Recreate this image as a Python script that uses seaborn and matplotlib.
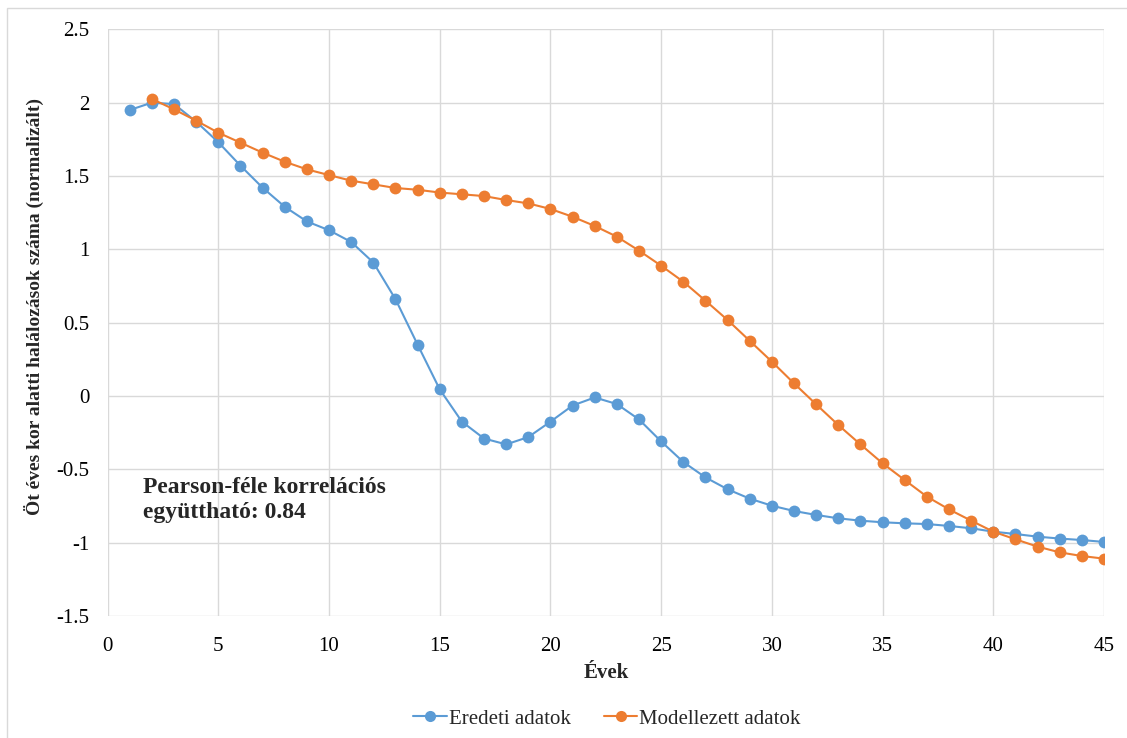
import pandas as pd
import seaborn as sns
import matplotlib.pyplot as plt
from matplotlib.lines import Line2D
from matplotlib.patches import Rectangle

# Data
years_orig = list(range(1, 46))
eredeti = [1.95, 2.00, 1.99, 1.87, 1.73, 1.57, 1.42, 1.29, 1.19, 1.13,
           1.05, 0.91, 0.66, 0.35, 0.045, -0.175, -0.29, -0.33, -0.28, -0.175,
           -0.065, -0.01, -0.055, -0.16, -0.31, -0.45, -0.555, -0.636, -0.70, -0.748,
           -0.784, -0.811, -0.834, -0.85, -0.861, -0.868, -0.873, -0.886, -0.902, -0.925,
           -0.941, -0.959, -0.972, -0.982, -0.995]

years_model = list(range(2, 46))
modellezett = [2.025, 1.954, 1.877, 1.795, 1.727, 1.659, 1.597, 1.545, 1.506,
               1.468, 1.443, 1.418, 1.406, 1.387, 1.375, 1.363, 1.336, 1.313, 1.275,
               1.222, 1.159, 1.086, 0.991, 0.888, 0.779, 0.650, 0.518, 0.376, 0.234,
               0.086, -0.057, -0.198, -0.33, -0.459, -0.573, -0.686, -0.773, -0.85, -0.925,
               -0.977, -1.027, -1.066, -1.091, -1.109]

series_names = ['Eredeti adatok', 'Modellezett adatok']
colors = ['#5B9BD5', '#ED7D31']

df = pd.concat([
    pd.DataFrame({'Évek': years_orig, 'érték': eredeti, 'sorozat': series_names[0]}),
    pd.DataFrame({'Évek': years_model, 'érték': modellezett, 'sorozat': series_names[1]}),
])

sns.set_style('whitegrid')
plt.rcParams['font.family'] = ['Liberation Serif', 'DejaVu Serif']

fig = plt.figure(figsize=(11.27, 7.38), dpi=100)
fig.subplots_adjust(left=0.0955, right=0.9796, top=0.9603, bottom=0.1653)
ax = fig.add_subplot(111)

sns.lineplot(data=df, x='Évek', y='érték', hue='sorozat', palette=colors,
             marker='o', markersize=8.5, markeredgewidth=0, linewidth=1.5,
             legend=False, ax=ax)

ax.set_xlim(0, 45)
ax.set_ylim(-1.5, 2.5)
ax.set_xticks(range(0, 46, 5))
ax.set_yticks([-1.5, -1, -0.5, 0, 0.5, 1, 1.5, 2, 2.5])
ax.set_yticklabels(['-1.5', '-1', '-0.5', '0', '0.5', '1', '1.5', '2', '2.5'])
ax.grid(True, color='#d9d9d9', linewidth=1)
for s in ax.spines.values():
    s.set_visible(False)
ax.tick_params(axis='both', length=0, labelsize=15, colors='black')
ax.tick_params(axis='y', pad=13)
ax.tick_params(axis='x', pad=15)

ax.set_xlabel('Évek', fontsize=15, fontweight='bold')
ax.xaxis.set_label_coords(0.5, -0.08)
ax.set_ylabel('Öt éves kor alatti halálozások száma (normalizált)', fontsize=14, fontweight='bold')
ax.yaxis.set_label_coords(-0.064, 0.528)

ax.text(1.6, -0.55, 'Pearson-féle korrelációs\negyüttható: 0.84', fontsize=17,
        fontweight='bold', va='top', ha='left', linespacing=1.3)

handles = [Line2D([0], [0], color=c, marker='o', markersize=8, linewidth=1.5, markeredgewidth=0)
           for c in colors]
fig.legend(handles, series_names, loc='center', bbox_to_anchor=(0.5386, 0.026), ncol=2,
           frameon=False, fontsize=15, handlelength=1.6, handletextpad=0.1, columnspacing=1.6)

# chart frame
fig.patches.append(Rectangle((7 / 1127, -0.1), 1.2, (738 - 8) / 738 + 0.1, transform=fig.transFigure,
                             fill=False, edgecolor='#d9d9d9', linewidth=1))

fig.savefig('out.png', dpi=100)
